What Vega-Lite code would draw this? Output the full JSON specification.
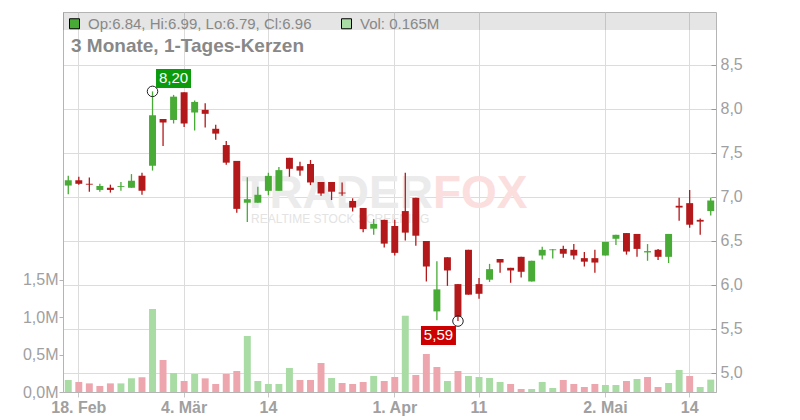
{
  "$schema": "https://vega.github.io/schema/vega-lite/v6.json",
  "width": 653,
  "height": 380,
  "autosize": {"type": "none"},
  "padding": {"left": 63, "top": 12, "right": 84, "bottom": 28},
  "background": "#ffffff",
  "config": {
    "font": "Liberation Sans",
    "view": {"stroke": "#c8c8c8"},
    "axis": {"labelFont": "Liberation Sans", "labelFontSize": 16, "labelColor": "#a0a0a0", "domainColor": "#b4b4b4", "tickColor": "#b4b4b4", "gridColor": "#dcdcdc"}
  },
  "title": {"text": "3 Monate, 1-Tages-Kerzen", "anchor": "start", "frame": "group", "orient": "top", "offset": 0, "dx": 8, "dy": 59, "baseline": "alphabetic", "fontSize": 19, "fontWeight": "bold", "color": "#888888", "font": "Liberation Sans"},
  "datasets": {
    "px": [
      {"d": "2019-02-15", "o": 7.13, "h": 7.24, "l": 7.03, "c": 7.19, "v": 160000, "vd": "u"},
      {"d": "2019-02-18", "o": 7.19, "h": 7.23, "l": 7.14, "c": 7.15, "v": 133000, "vd": "d"},
      {"d": "2019-02-19", "o": 7.15, "h": 7.22, "l": 7.06, "c": 7.14, "v": 115000, "vd": "d"},
      {"d": "2019-02-20", "o": 7.08, "h": 7.15, "l": 7.06, "c": 7.125, "v": 80000, "vd": "d"},
      {"d": "2019-02-21", "o": 7.105, "h": 7.14, "l": 7.05, "c": 7.08, "v": 115000, "vd": "d"},
      {"d": "2019-02-22", "o": 7.115, "h": 7.17, "l": 7.07, "c": 7.125, "v": 115000, "vd": "u"},
      {"d": "2019-02-25", "o": 7.105, "h": 7.26, "l": 7.105, "c": 7.185, "v": 182000, "vd": "u"},
      {"d": "2019-02-26", "o": 7.24, "h": 7.275, "l": 7.025, "c": 7.07, "v": 196000, "vd": "d"},
      {"d": "2019-02-27", "o": 7.355, "h": 8.2, "l": 7.3, "c": 7.93, "v": 1107000, "vd": "u"},
      {"d": "2019-02-28", "o": 7.885, "h": 7.885, "l": 7.58, "c": 7.845, "v": 427000, "vd": "d"},
      {"d": "2019-03-01", "o": 7.875, "h": 8.16, "l": 7.835, "c": 8.14, "v": 253000, "vd": "u"},
      {"d": "2019-03-04", "o": 8.19, "h": 8.19, "l": 7.795, "c": 7.835, "v": 147000, "vd": "d"},
      {"d": "2019-03-05", "o": 7.96, "h": 8.095, "l": 7.755, "c": 8.08, "v": 240000, "vd": "u"},
      {"d": "2019-03-06", "o": 7.99, "h": 8.065, "l": 7.79, "c": 7.945, "v": 182000, "vd": "d"},
      {"d": "2019-03-07", "o": 7.775, "h": 7.82, "l": 7.65, "c": 7.72, "v": 107000, "vd": "d"},
      {"d": "2019-03-08", "o": 7.59, "h": 7.635, "l": 7.365, "c": 7.39, "v": 240000, "vd": "d"},
      {"d": "2019-03-11", "o": 7.41, "h": 7.41, "l": 6.82, "c": 6.865, "v": 280000, "vd": "d"},
      {"d": "2019-03-12", "o": 6.935, "h": 7.225, "l": 6.715, "c": 6.975, "v": 747000, "vd": "u"},
      {"d": "2019-03-13", "o": 6.935, "h": 7.115, "l": 6.935, "c": 7.025, "v": 147000, "vd": "u"},
      {"d": "2019-03-14", "o": 7.07, "h": 7.275, "l": 7.02, "c": 7.24, "v": 107000, "vd": "u"},
      {"d": "2019-03-15", "o": 7.07, "h": 7.34, "l": 7.07, "c": 7.305, "v": 107000, "vd": "u"},
      {"d": "2019-03-18", "o": 7.445, "h": 7.445, "l": 7.23, "c": 7.32, "v": 320000, "vd": "u"},
      {"d": "2019-03-19", "o": 7.35, "h": 7.4, "l": 7.24, "c": 7.3, "v": 160000, "vd": "d"},
      {"d": "2019-03-20", "o": 7.375, "h": 7.42, "l": 7.135, "c": 7.165, "v": 160000, "vd": "d"},
      {"d": "2019-03-21", "o": 7.17, "h": 7.17, "l": 7.015, "c": 7.04, "v": 387000, "vd": "d"},
      {"d": "2019-03-22", "o": 7.17, "h": 7.17, "l": 6.965, "c": 7.06, "v": 187000, "vd": "u"},
      {"d": "2019-03-25", "o": 7.05, "h": 7.165, "l": 7.015, "c": 7.04, "v": 120000, "vd": "d"},
      {"d": "2019-03-26", "o": 6.955, "h": 6.985, "l": 6.835, "c": 6.88, "v": 107000, "vd": "d"},
      {"d": "2019-03-27", "o": 6.875, "h": 6.875, "l": 6.6, "c": 6.635, "v": 133000, "vd": "d"},
      {"d": "2019-03-28", "o": 6.64, "h": 6.75, "l": 6.57, "c": 6.695, "v": 213000, "vd": "u"},
      {"d": "2019-03-29", "o": 6.74, "h": 6.74, "l": 6.425, "c": 6.47, "v": 147000, "vd": "d"},
      {"d": "2019-04-01", "o": 6.67, "h": 6.74, "l": 6.335, "c": 6.365, "v": 200000, "vd": "d"},
      {"d": "2019-04-02", "o": 6.84, "h": 7.275, "l": 6.505, "c": 6.595, "v": 1017000, "vd": "u"},
      {"d": "2019-04-03", "o": 6.99, "h": 6.99, "l": 6.445, "c": 6.56, "v": 227000, "vd": "d"},
      {"d": "2019-04-04", "o": 6.5, "h": 6.5, "l": 6.04, "c": 6.21, "v": 507000, "vd": "d"},
      {"d": "2019-04-05", "o": 5.7, "h": 6.27, "l": 5.6, "c": 5.95, "v": 333000, "vd": "d"},
      {"d": "2019-04-08", "o": 6.315, "h": 6.315, "l": 5.99, "c": 6.165, "v": 147000, "vd": "u"},
      {"d": "2019-04-09", "o": 6.01, "h": 6.01, "l": 5.59, "c": 5.64, "v": 280000, "vd": "d"},
      {"d": "2019-04-10", "o": 6.4, "h": 6.4, "l": 5.89, "c": 5.89, "v": 213000, "vd": "u"},
      {"d": "2019-04-11", "o": 6.01, "h": 6.08, "l": 5.845, "c": 5.9, "v": 200000, "vd": "u"},
      {"d": "2019-04-12", "o": 6.06, "h": 6.24, "l": 6.035, "c": 6.18, "v": 187000, "vd": "u"},
      {"d": "2019-04-15", "o": 6.295, "h": 6.295, "l": 6.14, "c": 6.255, "v": 133000, "vd": "u"},
      {"d": "2019-04-16", "o": 6.195, "h": 6.195, "l": 6.025, "c": 6.165, "v": 107000, "vd": "d"},
      {"d": "2019-04-17", "o": 6.32, "h": 6.32, "l": 6.085, "c": 6.15, "v": 40000, "vd": "d"},
      {"d": "2019-04-18", "o": 6.04, "h": 6.275, "l": 6.04, "c": 6.275, "v": 40000, "vd": "u"},
      {"d": "2019-04-23", "o": 6.335, "h": 6.435, "l": 6.29, "c": 6.4, "v": 133000, "vd": "u"},
      {"d": "2019-04-24", "o": 6.395, "h": 6.41, "l": 6.3, "c": 6.405, "v": 53000, "vd": "u"},
      {"d": "2019-04-25", "o": 6.41, "h": 6.445, "l": 6.31, "c": 6.355, "v": 160000, "vd": "d"},
      {"d": "2019-04-26", "o": 6.4, "h": 6.465, "l": 6.29, "c": 6.335, "v": 107000, "vd": "d"},
      {"d": "2019-04-29", "o": 6.305, "h": 6.375, "l": 6.21, "c": 6.265, "v": 67000, "vd": "d"},
      {"d": "2019-04-30", "o": 6.305, "h": 6.4, "l": 6.14, "c": 6.255, "v": 107000, "vd": "d"},
      {"d": "2019-05-02", "o": 6.335, "h": 6.49, "l": 6.335, "c": 6.49, "v": 93000, "vd": "u"},
      {"d": "2019-05-03", "o": 6.525, "h": 6.57, "l": 6.455, "c": 6.57, "v": 93000, "vd": "u"},
      {"d": "2019-05-06", "o": 6.59, "h": 6.59, "l": 6.345, "c": 6.38, "v": 147000, "vd": "d"},
      {"d": "2019-05-07", "o": 6.58, "h": 6.58, "l": 6.32, "c": 6.41, "v": 173000, "vd": "u"},
      {"d": "2019-05-08", "o": 6.37, "h": 6.465, "l": 6.275, "c": 6.385, "v": 200000, "vd": "d"},
      {"d": "2019-05-09", "o": 6.4, "h": 6.41, "l": 6.285, "c": 6.32, "v": 67000, "vd": "d"},
      {"d": "2019-05-10", "o": 6.32, "h": 6.58, "l": 6.25, "c": 6.58, "v": 120000, "vd": "u"},
      {"d": "2019-05-13", "o": 6.9, "h": 6.99, "l": 6.73, "c": 6.88, "v": 293000, "vd": "u"},
      {"d": "2019-05-14", "o": 6.93, "h": 7.08, "l": 6.65, "c": 6.685, "v": 213000, "vd": "d"},
      {"d": "2019-05-15", "o": 6.74, "h": 6.755, "l": 6.57, "c": 6.72, "v": 67000, "vd": "u"},
      {"d": "2019-05-16", "o": 6.84, "h": 6.99, "l": 6.79, "c": 6.96, "v": 165000, "vd": "u"}
    ],
    "hdr": [
      {"lab": "Op:6.84, Hi:6.99, Lo:6.79, Cl:6.96"},
      {"lab": "Vol: 0.165M"}
    ],
    "ext": [
      {"d": "2019-02-27", "p": 8.2, "t": "8,20", "k": "hi"},
      {"d": "2019-04-09", "p": 5.59, "t": "5,59", "k": "lo"}
    ]
  },
  "layer": [
    {
      "data": {"name": "px"},
      "mark": {"type": "bar", "width": {"band": 0.66}},
      "encoding": {
        "x": {
          "field": "d", "type": "ordinal", "title": null,
          "scale": {"type": "band", "paddingInner": 0, "paddingOuter": 0},
          "axis": {
            "values": ["2019-02-18", "2019-03-04", "2019-03-14", "2019-04-01", "2019-04-11", "2019-05-02", "2019-05-14"],
            "labelExpr": "datum.value == '2019-02-18' ? '18. Feb' : datum.value == '2019-03-04' ? '4. Mär' : datum.value == '2019-03-14' ? '14' : datum.value == '2019-04-01' ? '1. Apr' : datum.value == '2019-04-11' ? '11' : datum.value == '2019-05-02' ? '2. Mai' : '14'",
            "labelAngle": 0, "labelOverlap": false, "grid": true, "bandPosition": 0.5,
            "tickSize": 5, "labelPadding": 2, "tickColor": "#c8c8c8",
            "labelFontWeight": {"condition": {"test": "length(datum.label) > 2", "value": "bold"}, "value": "normal"}
          }
        },
        "y": {
          "field": "v", "type": "quantitative", "title": null,
          "scale": {"domain": [0, 5066667], "nice": false, "zero": true},
          "axis": {"orient": "left", "values": [0, 500000, 1000000, 1500000], "labelExpr": "replace(format(datum.value / 1000000, '.1f'), '.', ',') + 'M'", "grid": false, "tickSize": 4, "labelPadding": 1}
        },
        "color": {"condition": {"test": "datum.vd == 'u'", "value": "#a9dca5"}, "value": "#eea6ae"}
      }
    },
    {
      "layer": [
        {
          "data": {"values": [{"t": "TRADER"}]},
          "mark": {"type": "text", "align": "right", "baseline": "alphabetic", "dx": 6.6, "fontSize": 46, "fontWeight": "bold", "color": "#ebebeb"},
          "encoding": {"x": {"datum": "2019-04-04", "type": "ordinal"}, "y": {"datum": 6.875, "type": "quantitative"}, "text": {"field": "t"}}
        },
        {
          "data": {"values": [{"t": "FOX"}]},
          "mark": {"type": "text", "align": "left", "baseline": "alphabetic", "dx": 6.6, "fontSize": 46, "fontWeight": "bold", "color": "#fbdede"},
          "encoding": {"x": {"datum": "2019-04-04", "type": "ordinal"}, "y": {"datum": 6.875, "type": "quantitative"}, "text": {"field": "t"}}
        },
        {
          "data": {"values": [{"t": "REALTIME STOCK SCREENING"}]},
          "mark": {"type": "text", "align": "left", "baseline": "alphabetic", "dx": 3.7, "fontSize": 12, "color": "#e3e3e3"},
          "encoding": {"x": {"datum": "2019-03-12", "type": "ordinal"}, "y": {"datum": 6.708, "type": "quantitative"}, "text": {"field": "t"}}
        },
        {
          "data": {"values": [{"t": "hdr"}]},
          "mark": {"type": "rect", "color": "#000000", "opacity": 0.1},
          "encoding": {"x": {"value": 0}, "x2": {"value": "width"}, "y": {"datum": 9.102, "type": "quantitative"}, "y2": {"datum": 8.898}}
        },
        {
          "data": {"name": "hdr"},
          "mark": {"type": "point", "shape": "square", "filled": true, "opacity": 0},
          "encoding": {
            "x": {"datum": "2019-02-15", "type": "ordinal"},
            "y": {"datum": 7, "type": "quantitative"},
            "color": {
              "field": "lab", "type": "nominal",
              "scale": {"domain": ["Op:6.84, Hi:6.99, Lo:6.79, Cl:6.96", "Vol: 0.165M"], "range": ["#47ab35", "#a9dca5"]},
              "legend": {
                "title": null, "orient": "top-left", "offset": 4, "direction": "horizontal", "padding": 0,
                "symbolType": "square", "symbolSize": 100, "labelFontSize": 15, "labelColor": "#888888", "labelFont": "Liberation Sans",
                "labelOffset": 6, "columnPadding": 27, "labelLimit": 400,
                "encode": {"symbols": {"update": {"stroke": {"value": "#000000"}, "strokeWidth": {"value": 1}, "opacity": {"value": 1}}}}
              }
            }
          }
        },
        {
          "data": {"name": "px"},
          "mark": {"type": "rule", "strokeWidth": 1.3},
          "encoding": {
            "x": {"field": "d", "type": "ordinal", "title": null},
            "y": {
              "field": "l", "type": "quantitative", "title": null,
              "scale": {"domain": [4.784, 9.102], "nice": false, "zero": false},
              "axis": {"orient": "right", "values": [5, 5.5, 6, 6.5, 7, 7.5, 8, 8.5], "labelExpr": "replace(format(datum.value, '.1f'), '.', ',')", "grid": true, "tickSize": -5, "labelPadding": 9, "tickColor": "#999999"}
            },
            "y2": {"field": "h"},
            "color": {"condition": {"test": "datum.c >= datum.o", "value": "#47ab35"}, "value": "#b3191b"}
          }
        },
        {
          "data": {"name": "px"},
          "mark": {"type": "bar", "width": {"band": 0.66}},
          "encoding": {
            "x": {"field": "d", "type": "ordinal", "title": null},
            "y": {"field": "o", "type": "quantitative", "title": null},
            "y2": {"field": "c"},
            "color": {"condition": {"test": "datum.c >= datum.o", "value": "#47ab35"}, "value": "#b3191b"}
          }
        },
        {
          "data": {"name": "ext"},
          "mark": {"type": "point", "shape": "circle", "filled": false, "color": "#222222", "strokeWidth": 1, "size": 110, "opacity": 1},
          "encoding": {
            "x": {"field": "d", "type": "ordinal", "title": null},
            "y": {"field": "p", "type": "quantitative", "title": null}
          }
        },
        {
          "data": {"name": "ext"},
          "transform": [{"filter": "datum.k == 'hi'"}],
          "mark": {"type": "point", "shape": "M-1,-0.543H1V0.543H-1Z", "filled": true, "color": "#0b9a0b", "size": 1225, "opacity": 1, "xOffset": 21, "yOffset": -13},
          "encoding": {
            "x": {"field": "d", "type": "ordinal", "title": null},
            "y": {"field": "p", "type": "quantitative", "title": null}
          }
        },
        {
          "data": {"name": "ext"},
          "transform": [{"filter": "datum.k == 'hi'"}],
          "mark": {"type": "text", "dx": 21, "dy": -13, "align": "center", "baseline": "middle", "fontSize": 15, "color": "#ffffff"},
          "encoding": {
            "x": {"field": "d", "type": "ordinal", "title": null},
            "y": {"field": "p", "type": "quantitative", "title": null},
            "text": {"field": "t"}
          }
        },
        {
          "data": {"name": "ext"},
          "transform": [{"filter": "datum.k == 'lo'"}],
          "mark": {"type": "point", "shape": "M-1,-0.543H1V0.543H-1Z", "filled": true, "color": "#cc0000", "size": 1225, "opacity": 1, "xOffset": -19.5, "yOffset": 14.4},
          "encoding": {
            "x": {"field": "d", "type": "ordinal", "title": null},
            "y": {"field": "p", "type": "quantitative", "title": null}
          }
        },
        {
          "data": {"name": "ext"},
          "transform": [{"filter": "datum.k == 'lo'"}],
          "mark": {"type": "text", "dx": -19.5, "dy": 14.4, "align": "center", "baseline": "middle", "fontSize": 15, "color": "#ffffff"},
          "encoding": {
            "x": {"field": "d", "type": "ordinal", "title": null},
            "y": {"field": "p", "type": "quantitative", "title": null},
            "text": {"field": "t"}
          }
        }
      ]
    }
  ],
  "resolve": {"scale": {"y": "independent"}, "axis": {"y": "independent"}}
}
